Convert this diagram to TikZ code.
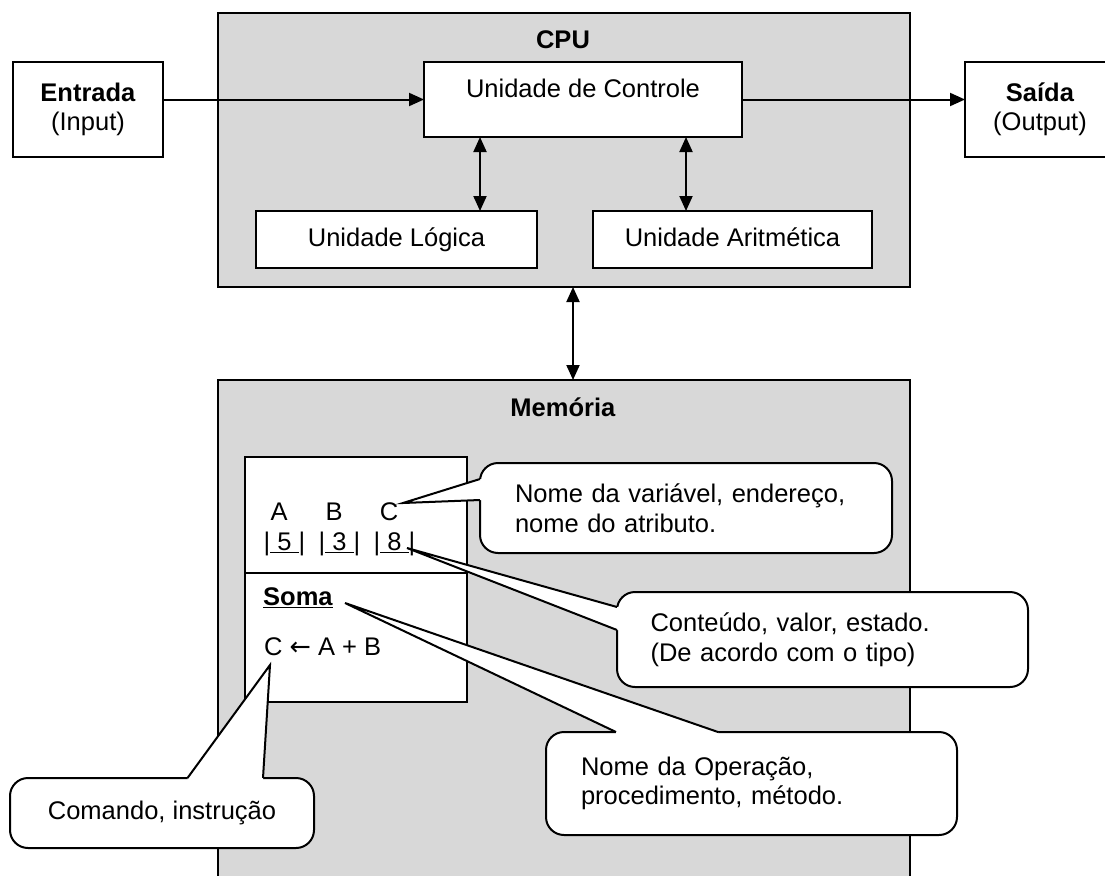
\documentclass[tikz,border=0pt]{standalone}
\usepackage{fontspec}
\setmainfont{Liberation Sans}
\newfontfamily\arrowfont{DejaVu Sans}
\usetikzlibrary{arrows.meta}
\usetikzlibrary{calc}
\tikzset{>=latex}
\definecolor{memgray}{RGB}{216,216,216}
\tikzstyle{graybox}=[draw=black,line width=2pt,fill=memgray,outer sep=0pt]
\tikzstyle{whitebox}=[draw=black,line width=2pt,fill=white,outer sep=0pt]
\tikzstyle{unitbox}=[whitebox,minimum height=57pt,text height=18.6pt,text depth=5pt]
\tikzstyle{bubble}=[draw=black,line width=2pt,fill=white,rounded corners=18pt,outer sep=0pt,align=left]
\tikzstyle{tailline}=[draw=black,line width=2pt]
\tikzstyle{flow}=[line width=2pt,-{Triangle[length=15pt,width=13pt]}]
\tikzstyle{twoway}=[line width=2pt,{Triangle[length=15pt,width=13pt]}-{Triangle[length=15pt,width=13pt]}]
\tikzstyle{txt}=[inner sep=0pt]

\begin{document}
\begin{tikzpicture}[x=1pt,y=-1pt,font=\fontsize{25.5}{29.5}\selectfont]
    \useasboundingbox (0,0) rectangle (1105,875);

    % CPU and its units
    \node[graybox,minimum width=692pt,minimum height=274pt] (cpu) at (564,150) {};
    \node[txt] (cpulabel) at (563,40) {\textbf{CPU}};
    \node[whitebox,minimum width=318pt,minimum height=75pt,text depth=21.6pt] (ctrl) at (583,99.5) {Unidade de Controle};
    \node[unitbox,minimum width=281pt] (logica) at (396.5,239.5) {Unidade Lógica};
    \node[unitbox,minimum width=279pt] (arit) at (732.5,239.5) {Unidade Aritmética};

    % Input and output
    \node[whitebox,minimum width=150pt,minimum height=95pt,align=center] (entrada) at (88,109.5) {\textbf{Entrada}\\(Input)};
    \node[whitebox,minimum width=150pt,minimum height=95pt,align=center] (saida) at (1040,109.5) {\textbf{Saída}\\(Output)};

    \draw[flow] (entrada.east |- ctrl.west) -- (ctrl.west);
    \draw[flow] (ctrl.east) -- (saida.west |- ctrl.east);
    \draw[twoway] ($(ctrl.south west)+(56,0)$) -- ($(logica.north west)+(224,0)$);
    \draw[twoway] ($(ctrl.south west)+(262,0)$) -- ($(arit.north west)+(93,0)$);

    % Memory
    \node[graybox,minimum width=692pt,minimum height=510pt] (mem) at (564,635) {};
    \node[txt] (memlabel) at (563,407) {\textbf{Memória}};
    \draw[twoway] ($(cpu.south)+(9,0)$) -- ($(mem.north)+(9,0)$);

    \node[whitebox,minimum width=222pt,minimum height=116pt] (varbox) at (356,515) {};
    \node[whitebox,minimum width=222pt,minimum height=129pt] (opbox) at (356,637.5) {};

    \foreach \v/\n/\x in {A/5/279,B/3/334,C/8/389}{
        \node[txt] (var\v) at (\x,512) {\v};
        \node[txt] (val\v) at (\x+5.5,544) {|\underline{\ \n\ }|};
    }
    \node[txt,anchor=west] (soma) at (263,598) {\underline{\textbf{Soma}}};
    \node[txt,anchor=west] (cmd) at (264,647) {C {\arrowfont ←} A + B};

    % Callouts
    \node[bubble,minimum width=412pt,minimum height=90pt,text width=342pt] (nomevar) at (686,508) {Nome da variável, endereço,\\nome do atributo.};
    \node[bubble,minimum width=411pt,minimum height=95pt,text width=344pt] (conteudo) at (822.5,639.5) {Conteúdo, valor, estado.\\(De acordo com o tipo)};
    \node[bubble,minimum width=411pt,minimum height=103pt,text width=341pt] (operacao) at (751.5,783.5) {Nome da Operação,\\procedimento, método.};
    \node[bubble,minimum width=304pt,minimum height=70pt] (comando) at (162,813) {Comando, instrução};

    \coordinate (tipvar) at (403,503);
    \coordinate (tipval) at (407,548);
    \coordinate (tipop) at (345,603);
    \coordinate (tipcmd) at (270,665);

    % tails of the callouts
    \fill[white] ($(nomevar.west)+(4,-29)$) -- ($(nomevar.west)+(0,-29)$) -- (tipvar) -- ($(nomevar.west)+(0,-8)$) -- ($(nomevar.west)+(4,-8)$) -- cycle;
    \draw[tailline] ($(nomevar.west)+(0,-29)$) -- (tipvar) -- ($(nomevar.west)+(0,-8)$);

    \fill[white] ($(conteudo.west)+(4,-32.5)$) -- ($(conteudo.west)+(0,-32.5)$) -- (tipval) -- ($(conteudo.west)+(0,-9.5)$) -- ($(conteudo.west)+(4,-9.5)$) -- cycle;
    \draw[tailline] ($(conteudo.west)+(0,-32.5)$) -- (tipval) -- ($(conteudo.west)+(0,-9.5)$);

    \fill[white] ($(operacao.north)+(-135.5,4)$) -- ($(operacao.north)+(-135.5,0)$) -- (tipop) -- ($(operacao.north)+(-33.5,0)$) -- ($(operacao.north)+(-33.5,4)$) -- cycle;
    \draw[tailline] ($(operacao.north)+(-135.5,0)$) -- (tipop) -- ($(operacao.north)+(-33.5,0)$);

    \fill[white] ($(comando.north)+(25.5,4)$) -- ($(comando.north)+(25.5,0)$) -- (tipcmd) -- ($(comando.north)+(101,0)$) -- ($(comando.north)+(101,4)$) -- cycle;
    \draw[tailline] ($(comando.north)+(25.5,0)$) -- (tipcmd) -- ($(comando.north)+(101,0)$);
\end{tikzpicture}
\end{document}
